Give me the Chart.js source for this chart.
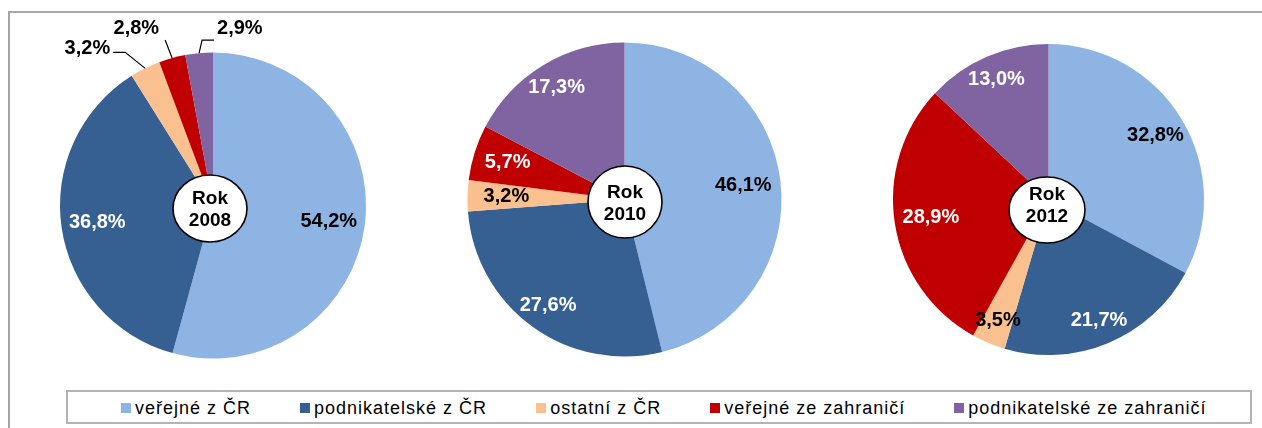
<!DOCTYPE html>
<html lang="cs">
<head>
<meta charset="utf-8">
<title>Struktura zdrojů</title>
<script src="https://cdn.jsdelivr.net/npm/chart.js@4.4.1/dist/chart.umd.min.js"></script>
<style>
  html, body { margin: 0; padding: 0; background: #fff; }
  body {
    width: 1262px; height: 428px; position: relative; overflow: hidden;
    font-family: "Liberation Sans", Arial, sans-serif;
  }
  .frame {
    position: absolute; left: 8px; top: 11px; width: 1400px; height: 600px;
    border: 2px solid #a6a6a6; box-sizing: border-box;
  }
  .pie { position: absolute; left: 0; top: 0; width: 1262px; height: 428px; }
  #legend {
    position: absolute; left: 66px; top: 390px; width: 1186px; height: 34px;
    box-sizing: border-box; border: 2px solid #b4b4b4; background: #fff;
    display: flex; align-items: center; padding: 2px 0 0 53px;
    font-size: 18px; letter-spacing: 1px; color: #000;
  }
  #legend .item { display: flex; align-items: center; margin-right: 49px; white-space: nowrap; }
  #legend .box { width: 10px; height: 10px; margin-right: 4px; }
</style>
</head>
<body>
<div class="frame"></div>
<div class="pie"><canvas id="pie2008"></canvas></div>
<div class="pie"><canvas id="pie2010"></canvas></div>
<div class="pie"><canvas id="pie2012"></canvas></div>
<div id="legend"></div>

<script>
/* ── data ── */
const categories = ['veřejné z ČR', 'podnikatelské z ČR', 'ostatní z ČR', 'veřejné ze zahraničí', 'podnikatelské ze zahraničí'];
const years      = ['2008', '2010', '2012'];
const share2008  = [54.2, 36.8, 3.2, 2.8, 2.9];
const share2010  = [46.1, 27.6, 3.2, 5.7, 17.3];
const share2012  = [32.8, 21.7, 3.5, 28.9, 13.0];

const colors      = ['#8EB4E3', '#376092', '#FAC090', '#C00000', '#8064A2'];
const labelColors = ['#000', '#fff', '#000', '#fff', '#fff'];

/* ── layout of each pie (centre, radius, badge, callouts) ── */
const W = 1262, H = 428;
const layout = {
  pie2008: {
    cx: 213, cy: 205.5, r: 153,
    badge: { dx: -3, dy: 3, rx: 37, ry: 33.5, ty: 1 },
    callouts: {
      2: { path: [[-20, -16], [-32, -16]], text: [-35, -20], align: 'right' },
      3: { path: [[-7, -18]],              text: [-13, -30], align: 'right' },
      4: { path: [[3, -13], [15, -13]],    text: [18, -25],  align: 'left'  },
    },
  },
  pie2010: { cx: 624.5,  cy: 199.5, r: 157,   badge: { dx: 0.5,  dy: 2.5,  rx: 37, ry: 36, ty: 1.5 }, callouts: {} },
  pie2012: { cx: 1048.5, cy: 199.5, r: 155.5, badge: { dx: -1.5, dy: 10.5, rx: 38, ry: 33, ty: -4.5 }, callouts: {} },
};

const fmtPct = v => v.toFixed(1).replace('.', ',') + '%';

/* ── popisky výsečí + kolečko s rokem ── */
const sliceLabels = {
  id: 'sliceLabels',
  afterDatasetsDraw(chart) {
    const cfg    = layout[chart.canvas.id];
    const ctx    = chart.ctx;
    const meta   = chart.getDatasetMeta(0);
    const values = chart.data.datasets[0].data;
    let cx = 0, cy = 0;

    ctx.save();
    ctx.font = 'bold 20px "Liberation Sans", Arial, sans-serif';
    ctx.textBaseline = 'middle';

    meta.data.forEach((arc, i) => {
      const p   = arc.getProps(['x', 'y', 'startAngle', 'endAngle', 'outerRadius'], true);
      const mid = (p.startAngle + p.endAngle) / 2;
      const cos = Math.cos(mid), sin = Math.sin(mid);
      const txt = fmtPct(values[i]);
      const call = cfg.callouts[i];
      cx = p.x; cy = p.y;

      if (call) {
        const ex = p.x + cos * p.outerRadius;
        const ey = p.y + sin * p.outerRadius;
        ctx.strokeStyle = '#000';
        ctx.lineWidth   = 1.2;
        ctx.beginPath();
        ctx.moveTo(ex, ey);
        call.path.forEach(([dx, dy]) => ctx.lineTo(ex + dx, ey + dy));
        ctx.stroke();
        ctx.fillStyle = '#000';
        ctx.textAlign = call.align;
        ctx.fillText(txt, ex + call.text[0], ey + call.text[1]);
      } else {
        const f = 0.75 + 0.1 * Math.abs(sin);
        ctx.fillStyle = labelColors[i];
        ctx.textAlign = 'center';
        ctx.fillText(txt, p.x + cos * p.outerRadius * f, p.y + sin * p.outerRadius * f);
      }
    });

    /* kolečko "Rok xxxx" */
    const b  = cfg.badge;
    const bx = cx + b.dx, by = cy + b.dy;
    ctx.beginPath();
    ctx.ellipse(bx, by, b.rx, b.ry, 0, 0, Math.PI * 2);
    ctx.fillStyle = '#fff';
    ctx.fill();
    ctx.lineWidth   = 1.6;
    ctx.strokeStyle = '#000';
    ctx.stroke();

    ctx.fillStyle = '#000';
    ctx.textAlign = 'center';
    ctx.font = 'bold 19px "Liberation Sans", Arial, sans-serif';
    ctx.fillText('Rok',           bx, by + b.ty - 11);
    ctx.fillText(chart.data.year, bx, by + b.ty + 11);
    ctx.restore();
  },
};

function buildPie(id, data, year) {
  const c = layout[id];
  const chart = new Chart(document.getElementById(id), {
    type: 'pie',
    data: {
      labels: categories,
      datasets: [{
        data,
        backgroundColor: colors,
        borderWidth    : 0,
        hoverOffset    : 0,
      }],
    },
    options: {
      responsive         : true,
      maintainAspectRatio: false,
      animation          : false,
      events             : [],
      layout: {
        padding: {
          left  : c.cx - c.r,
          right : W - c.cx - c.r,
          top   : c.cy - c.r,
          bottom: H - c.cy - c.r,
        },
      },
      plugins: { legend: { display: false }, tooltip: { enabled: false } },
    },
    plugins: [sliceLabels],
  });
  chart.data.year = year;
  chart.draw();
  return chart;
}

buildPie('pie2008', share2008, years[0]);
buildPie('pie2010', share2010, years[1]);
buildPie('pie2012', share2012, years[2]);

/* ── legenda ── */
document.getElementById('legend').innerHTML = categories.map((name, i) => `
  <div class="item"><span class="box" style="background:${colors[i]}"></span><span>${name}</span></div>`
).join('');
</script>
</body>
</html>
